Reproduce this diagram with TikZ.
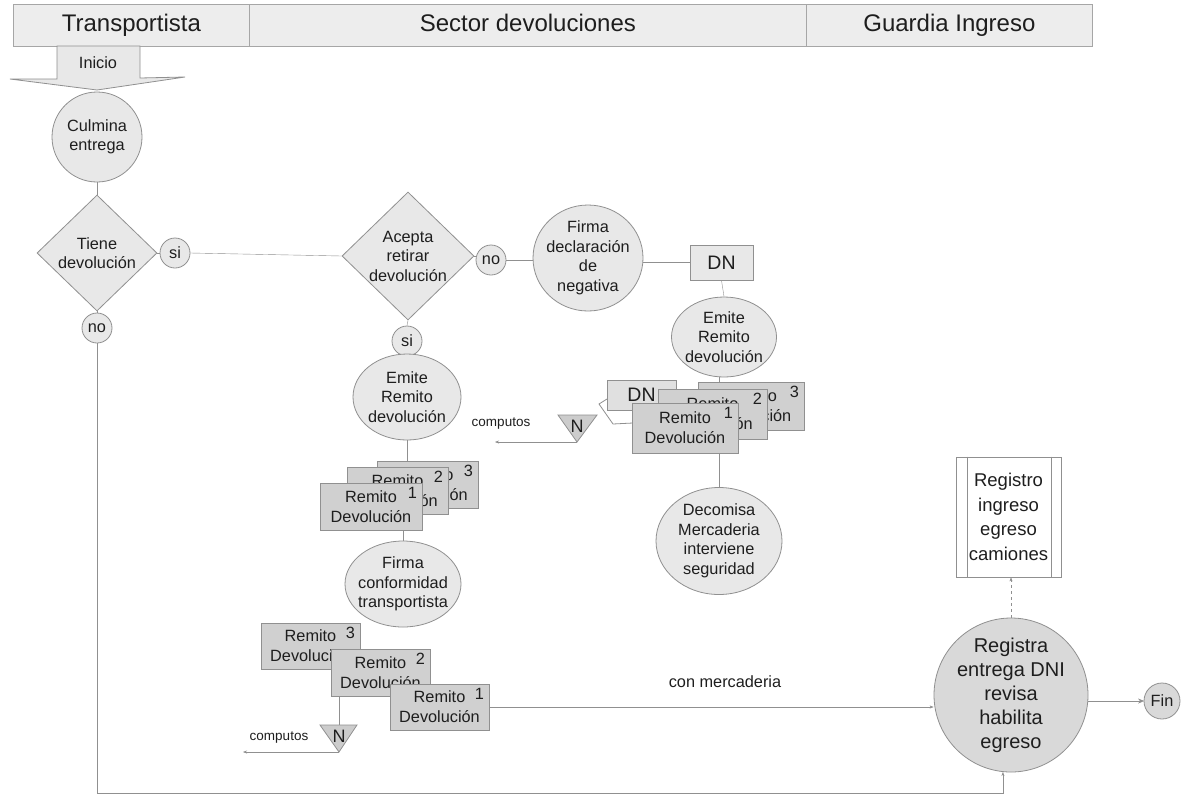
\documentclass[tikz,border=0pt]{standalone}
\usepackage{fontspec}
\setmainfont{Liberation Sans}
\usetikzlibrary{shapes.geometric,arrows.meta,calc}
\pgfdeclarelayer{bg}
\pgfsetlayers{bg,main}

\definecolor{edge}{HTML}{909090}
\definecolor{ink}{HTML}{1E1E1E}
\definecolor{lanefill}{HTML}{EDEDED}
\definecolor{shapefill}{HTML}{E8E8E8}
\definecolor{docfill}{HTML}{D0D0D0}
\definecolor{docback}{HTML}{E0E0E0}
\definecolor{darkfill}{HTML}{D9D9D9}
\definecolor{trifill}{HTML}{CCCCCC}

\begin{document}
\begin{tikzpicture}[x=1pt,y=-1pt,
  line width=0.8pt,
  lane/.style={draw=edge!80, fill=lanefill, minimum height=42pt, inner sep=0pt,
    text height=17.5pt, text depth=5pt,
    anchor=north west, text=ink, font=\fontsize{24}{28}\selectfont},
  lbl/.style={font=\fontsize{16.3}{19.5}\selectfont, text=ink, align=center},
  circ/.style={lbl, circle, draw=edge, fill=shapefill, inner sep=-4pt},
  yesno/.style={circ, minimum size=30pt},
  oval/.style={lbl, ellipse, draw=edge, fill=shapefill, inner sep=-8pt},
  dia/.style={lbl, diamond, draw=edge, fill=shapefill, inner sep=-3pt},
  doc/.style={lbl, font=\fontsize{16.3}{20}\selectfont, draw=edge, fill=docfill,
    inner sep=0pt,
    label={[lbl, anchor=north east, inner sep=0pt, xshift=-5pt, yshift=-4pt]north east:#1}},
  dnbox/.style={lbl, font=\fontsize{19.5}{22}\selectfont, draw=edge, inner sep=0pt},
  tri/.style={draw=edge, fill=trifill},
  conn/.style={draw=edge},
  arr/.style={draw=edge, -{Stealth[length=4pt,width=3pt]}},
  small/.style={font=\fontsize{13.5}{16}\selectfont, text=ink}
]
\useasboundingbox (0,0) rectangle (1198,796);

% ---------------- swimlane headers ----------------
\node[lane, minimum width=236pt] (laneT) at (13,4) {Transportista};
\node[lane, minimum width=557pt] (laneS) at (249,4) {Sector devoluciones};
\node[lane, minimum width=286pt] (laneG) at (806,4) {Guardia Ingreso};

% ---------------- start arrow ----------------
\filldraw[draw=edge, fill=shapefill]
  (57,46) -- (140,46) -- (140,78) -- (185,77) -- (97,90) -- (10,79) -- (57,79) -- cycle;
\node[lbl] (inicio) at (98,63) {Inicio};

% ---------------- Transportista lane ----------------
\node[circ, minimum size=90pt] (culmina) at (97,137) {Culmina\\entrega};
\node[dia, minimum width=120pt, minimum height=116pt] (tiene) at (97,253) {Tiene\\devolución};
\node[yesno] (si1) at (175,253) {si};
\node[yesno] (no1) at (97,328) {no};

% ---------------- Sector devoluciones ----------------
\node[dia, minimum width=132pt, minimum height=128pt] (acepta) at (408,256) {Acepta\\retirar\\devolución};
\node[yesno] (no2) at (491,260) {no};
\node[oval, minimum width=110pt, minimum height=106pt] (firmad) at (588,258) {Firma\\declaración\\de\\negativa};
\node[dnbox, fill=shapefill, minimum width=63pt, minimum height=35pt] (dn) at (721.5,262.5) {DN};
\node[oval, minimum width=105pt, minimum height=80pt] (emiteR) at (724,337) {Emite\\Remito\\devolución};
\node[oval, minimum width=126pt, minimum height=107pt] (decomisa) at (719,541) {Decomisa\\Mercaderia\\interviene\\seguridad};

\node[yesno] (si2) at (407,341) {si};
\node[oval, minimum width=108pt, minimum height=86pt] (emiteL) at (407,397) {Emite\\Remito\\devolución};

% copies of the remito, left branch
\node[doc=3, minimum width=101pt, minimum height=47pt] (l3) at (427.5,484.5) {Remito\\Devolución};
\node[doc=2, minimum width=101pt, minimum height=47pt] (l2) at (397.5,490.5) {Remito\\Devolución};
\node[doc=1, minimum width=102pt, minimum height=47pt] (l1) at (371,506.5) {Remito\\Devolución};

\node[oval, minimum width=116pt, minimum height=86pt] (firmac) at (403,584) {Firma\\conformidad\\transportista};

% copies handed to the carrier
\node[doc=3, minimum width=99pt, minimum height=46pt] (b3) at (310.5,646) {Remito\\Devolución};
\node[doc=2, minimum width=99pt, minimum height=47pt] (b2) at (380.5,672.5) {Remito\\Devolución};
\node[doc=1, minimum width=99pt, minimum height=46pt] (b1) at (439.5,707) {Remito\\Devolución};

% filed copy (N) towards computos, lower branch
\coordinate (nBtip) at (339,752);
\filldraw[tri] (320,725) -- (357,725) -- (nBtip) -- cycle;
\node[lbl, font=\fontsize{18}{20}\selectfont, inner sep=0pt] (nB) at (339,736) {N};
\coordinate (nBout) at (243,752);
\node[small] (cB) at (279,738) {computos};

% negative branch: DN and remito copies
\filldraw[draw=edge, fill=white] (607,399) -- (599,404) -- (613,424) -- (633,423);
\node[dnbox, fill=docback, minimum width=69pt, minimum height=30pt] (r0) at (641.5,395) {DN};
\node[doc=3, minimum width=106pt, minimum height=48pt] (r3) at (751,406) {Remito\\Devolución};
\node[doc=2, minimum width=109pt, minimum height=50pt] (r2) at (712.5,414) {Remito\\Devolución};
\node[doc=1, minimum width=106pt, minimum height=50pt] (r1) at (685,428) {Remito\\Devolución};

\coordinate (nMtip) at (577,442);
\filldraw[tri] (558,415) -- (597,415) -- (nMtip) -- cycle;
\node[lbl, font=\fontsize{18}{20}\selectfont, inner sep=0pt] (nM) at (577,426) {N};
\coordinate (nMout) at (495,442);
\node[small] (cM) at (501,424) {computos};

% ---------------- Guardia Ingreso ----------------
\node[circ, fill=darkfill, minimum size=154pt, inner sep=-12pt,
      font=\fontsize{20}{24}\selectfont] (registra) at (1011,695)
      {Registra\\entrega DNI\\revisa\\habilita\\egreso};
\node[circ, fill=darkfill, minimum size=36pt] (fin) at (1162,701) {Fin};
\node[lbl, draw=edge, fill=white, minimum width=105pt, minimum height=120pt,
      inner sep=0pt, font=\fontsize{18.5}{24.5}\selectfont] (registro) at (1008.5,517)
      {Registro\\ingreso\\egreso\\camiones};
\draw[edge] ([xshift=12pt]registro.north west) -- ([xshift=12pt]registro.south west);
\draw[edge] ([xshift=-10pt]registro.north east) -- ([xshift=-10pt]registro.south east);

\node[lbl] (conm) at (725,682) {con mercaderia};
\coordinate (floor) at (0,793);

% ---------------- connectors ----------------
\begin{pgfonlayer}{bg}
  \fill[white] (0,0) rectangle (1198,796);
  \draw[conn] (culmina.south) -- (tiene.north);
  \draw[conn] (tiene.east) -- (si1.west);
  \draw[conn] (si1.east) -- (acepta.west);
  \draw[conn] (tiene.south) -- (no1.north);
  \draw[arr] (no1.south) -- (no1.south |- floor) -| (registra.264);
  \draw[conn] (acepta.east) -- (no2.west |- acepta.east);
  \draw[conn] (no2.east) -- (firmad.west |- no2.east);
  \draw[conn] (firmad.east |- dn.west) -- (dn.west);
  \draw[conn] (dn.south) -- (emiteR.north);
  \draw[conn] (emiteR.south -| decomisa.north) -- (decomisa.north);
  \draw[conn] (acepta.south) -- (si2.north);
  \draw[conn] (si2.south) -- (emiteL.north);
  \draw[conn] (emiteL.south) -- (emiteL.south |- l3.north);
  \draw[conn] (firmac.north) -- (firmac.north |- l1.south);
  \draw[conn] (nB |- b2.south) -- (nB);
  \draw[arr] (nBtip) -- (nBout);
  \draw[arr] (nMtip) -- (nMout);
  \draw[arr] (b1.east) -- (registra.west |- b1.east);
  \draw[draw=edge, -{Stealth[length=6pt,width=5pt]}, shorten >=-0.5pt] (fin.west -| registra.east) -- (fin.west);
  \draw[draw=edge, dashed, -{Stealth[length=4pt,width=3pt]}] (registra.north) -- (registra.north |- registro.south);
\end{pgfonlayer}
\end{tikzpicture}
\end{document}
